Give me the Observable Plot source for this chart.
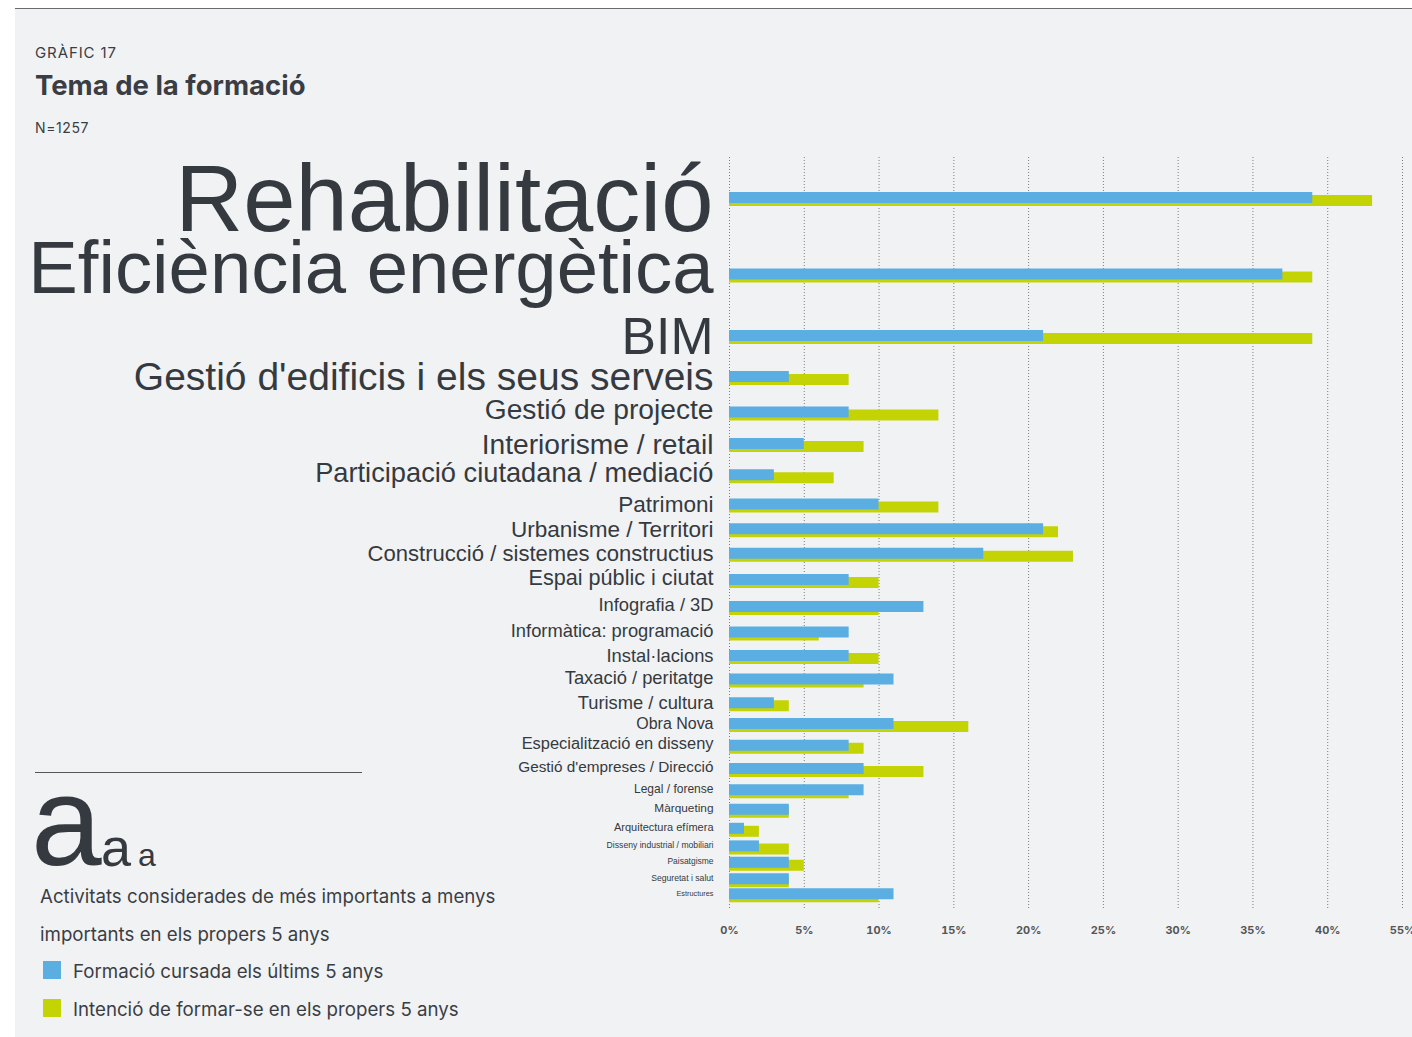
<!DOCTYPE html>
<html><head><meta charset="utf-8">
<script src="https://cdn.jsdelivr.net/npm/d3@7"></script>
<script src="https://cdn.jsdelivr.net/npm/@observablehq/plot@0.6"></script>
<style>
body{margin:0;background:#fff;}
#page{position:relative;width:1412px;height:1037px;overflow:hidden;background:#fff;}
.panel{position:absolute;left:15px;top:9px;width:1397px;height:1028px;background:#f1f2f4;}
.topline{position:absolute;left:15px;top:8px;width:1397px;height:1px;background:#6b6b6b;}
.t{position:absolute;white-space:nowrap;color:#3a3e44;font-family:Inter, Lato, sans-serif;line-height:1;}
.a{position:absolute;white-space:nowrap;color:#353a40;font-family:'Liberation Sans', Arial, sans-serif;line-height:1;}
.sw{position:absolute;width:18px;height:18px;}
#chart{position:absolute;left:0;top:140px;}
</style></head>
<body><div id="page">
<div class="panel"></div>
<div class="topline"></div>
<div class="t" style="left:35px;top:45px;font-size:15px;letter-spacing:0.9px;">GRÀFIC 17</div>
<div class="t" style="left:35px;top:72px;font-size:27.5px;font-weight:700;">Tema de la formació</div>
<div class="t" style="left:35px;top:121px;font-size:14px;letter-spacing:0.6px;">N=1257</div>
<div id="chart"></div>
<div style="position:absolute;left:35px;top:772px;width:327px;height:1px;background:#555;"></div>
<div class="a" style="left:31px;top:758px;font-size:127px;">a</div>
<div class="a" style="left:101px;top:820px;font-size:54px;">a</div>
<div class="a" style="left:138px;top:839px;font-size:32px;">a</div>
<div class="t" style="left:40px;top:888px;font-size:18.7px;">Activitats considerades de més importants a menys</div>
<div class="t" style="left:40px;top:926px;font-size:18.7px;">importants en els propers 5 anys</div>
<div class="sw" style="left:43px;top:961px;background:#5aaee2;"></div>
<div class="t" style="left:73px;top:963px;font-size:18.7px;">Formació cursada els últims 5 anys</div>
<div class="sw" style="left:43px;top:999px;background:#c4d304;"></div>
<div class="t" style="left:73px;top:1001px;font-size:18.7px;">Intenció de formar-se en els propers 5 anys</div>
</div>
<script>
const temes = ["Rehabilitació", "Eficiència energètica", "BIM", "Gestió d'edificis i els seus serveis", "Gestió de projecte", "Interiorisme / retail", "Participació ciutadana / mediació", "Patrimoni", "Urbanisme / Territori", "Construcció / sistemes constructius", "Espai públic i ciutat", "Infografia / 3D", "Informàtica: programació", "Instal·lacions", "Taxació / peritatge", "Turisme / cultura", "Obra Nova", "Especialització en disseny", "Gestió d'empreses / Direcció", "Legal / forense", "Màrqueting", "Arquitectura efímera", "Disseny industrial / mobiliari", "Paisatgisme", "Seguretat i salut", "Estructures"];
const formacioCursada = [39, 37, 21, 4, 8, 5, 3, 10, 21, 17, 8, 13, 8, 8, 11, 3, 11, 8, 9, 9, 4, 1, 2, 4, 4, 11];
const intencioFormar = [43, 39, 39, 8, 14, 9, 7, 14, 22, 23, 10, 10, 6, 10, 9, 4, 16, 9, 13, 8, 4, 2, 4, 5, 4, 10];
// importància relativa (0-100), llegida de la mida de les etiquetes
const importancia = [100, 79, 55, 41.5, 30, 30, 29, 24, 24, 23.5, 23, 19.5, 19.5, 19.5, 19.5, 19.5, 17, 17.5, 16.3, 12.8, 12.6, 11.7, 9.2, 9, 9.2, 7.8];
const tickValues = [0, 5, 10, 15, 20, 25, 30, 35, 40, 45];
const tickLabels = ["0%", "5%", "10%", "15%", "20%", "25%", "30%", "35%", "40%", "55%"];

const BLUE = "#5aaee2", GREEN = "#c4d304";
const midaScale = d3.scaleLinear().domain([0, 100]).range([0, 94]);
const n = temes.length;
// label layout: stack the labels' glyph boxes (cap height + descender if any) with a constant gap
const CAP = 0.716, DESC = 0.21, GAP = 8.5;
const rows = temes.map((t, i) => {
  const mida = midaScale(importancia[i]);
  const desc = /[gjpqyç]/.test(t) ? DESC : 0;
  return {tema: t, cursada: formacioCursada[i], intencio: intencioFormar[i], mida, h: mida * (CAP + desc), desc};
});
rows.forEach((r, i) => {
  r.pos = i === 0 ? 0 : rows[i - 1].pos + (rows[i - 1].h + r.h) / 2 + GAP;
  r.base = r.pos + r.h / 2 - r.desc * r.mida; // text baseline
});
const total = rows[n - 1].pos;

const chart = Plot.plot({
  width: 1412, height: 810,
  marginLeft: 729, marginRight: 10, marginTop: 17, marginBottom: 40,
  style: {background: "transparent", fontFamily: "Inter, Lato, sans-serif", fontSize: "11px", fontWeight: "700", color: "#555", overflow: "visible"},
  x: {domain: [0, 45], ticks: tickValues, tickFormat: d => tickLabels[tickValues.indexOf(d)], tickSize: 0, tickPadding: 16, label: null},
  y: {domain: [0, total], range: [57, 57 + total], axis: null},
  marks: [
    Plot.ruleX(tickValues, {stroke: "#7d7d7d", strokeDasharray: "1,2", strokeWidth: 1}),
    Plot.ruleY(rows, {y: "pos", x1: d => 0, x2: "intencio", stroke: GREEN, strokeWidth: 11, dy: 3}),
    Plot.ruleY(rows, {y: "pos", x1: d => 0, x2: "cursada", stroke: BLUE, strokeWidth: 11}),
    Plot.text(rows, {x: d => 0, y: "base", text: "tema", fontSize: d => d.mida, textAnchor: "end", lineAnchor: "bottom", dx: -16, fill: "#353a40", fontFamily: "'Liberation Sans', Arial, sans-serif", fontWeight: "normal"})
  ]
});
document.getElementById("chart").appendChild(chart);
</script>
</body></html>
